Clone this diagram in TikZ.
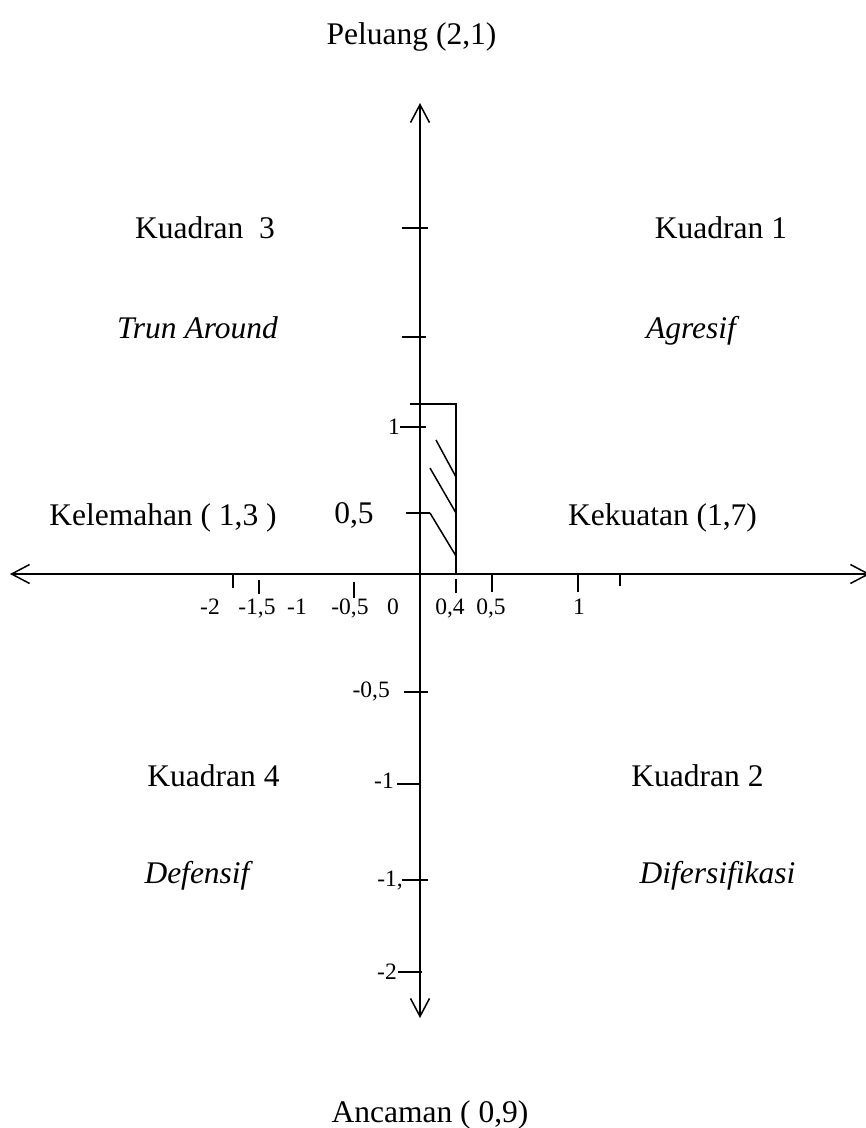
\documentclass[tikz,border=0pt]{standalone}
\usepackage{fontspec}
\setmainfont{Liberation Serif}
\usetikzlibrary{arrows.meta}
\begin{document}
\begin{tikzpicture}[x=1pt,y=-1pt,
  ln/.style={line width=1.5pt},
  axis/.style={ln,{Straight Barb[length=18pt,width=19pt,line width=1.5pt]}-{Straight Barb[length=18pt,width=19pt,line width=1.5pt]}},
  big/.style={inner sep=0pt,anchor=base,font=\fontsize{31.5}{36}\selectfont},
  small/.style={inner sep=0pt,anchor=base,font=\fontsize{23.5}{27}\selectfont},
  smalle/.style={inner sep=0pt,anchor=base east,font=\fontsize{23.5}{27}\selectfont}]
\useasboundingbox (0,0) rectangle (866,1128);
% axes
\coordinate (top) at (420,103);
\coordinate (bot) at (420,1018);
\coordinate (lft) at (10,574);
\coordinate (rgt) at (870,574);
\draw[axis] (bot) -- (top);
\draw[axis] (lft) -- (rgt);
% vertical ticks
\draw[ln] (402,228) -- (428,228);
\draw[ln] (402,337) -- (426,337);
\draw[ln] (400,427) -- (426,427);
\draw[ln] (406,513) -- (430,513);
\draw[ln] (404,692) -- (428,692);
\draw[ln] (397,784) -- (420,784);
\draw[ln] (402,880) -- (428,880);
\draw[ln] (398,972) -- (422,972);
% horizontal ticks
\draw[ln] (233,573) -- (233,588);
\draw[ln] (259,580) -- (259,594);
\draw[ln] (354,582) -- (354,598);
\draw[ln] (456,579) -- (456,593);
\draw[ln] (492,574) -- (492,592);
\draw[ln] (578,574) -- (578,592);
\draw[ln] (620,574) -- (620,586);
% rectangle and hatching
\draw[ln] (410,404) -- (456,404) -- (456,574);
\draw[ln] (430,513) -- (456,556);
\draw[ln] (430,468) -- (456,513);
\draw[ln] (436,440) -- (456,477);
% horizontal axis labels
\node[small] (hm2) at (210,614) {-2};
\node[small] (hm15) at (257,614) {-1,5};
\node[small] (hm1) at (297,614) {-1};
\node[small] (hm05) at (350,614) {-0,5};
\node[small] (h0) at (393,614) {0};
\node[small] (h04) at (450,614) {0,4};
\node[small] (h05) at (491,614) {0,5};
\node[small] (h1) at (579,614) {1};
% vertical axis labels
\node[smalle] (v1) at (400,434) {1};
\node[smalle] (vm05) at (390,697) {-0,5};
\node[smalle] (vm1) at (394,788) {-1};
\node[smalle] (vm1b) at (403,886) {-1,};
\node[smalle] (vm2) at (397,979) {-2};
\node[big] (v05) at (354,523) {0,5};
% titles
\node[big] (peluang) at (411.5,44) {Peluang (2,1)};
\node[big] (ancaman) at (430,1122) {Ancaman ( 0,9)};
\node[big] (kelemahan) at (163,525) {Kelemahan ( 1,3 )};
\node[big] (kekuatan) at (662.5,525) {Kekuatan (1,7)};
\node[big] (k3) at (205,238) {Kuadran\ \ 3};
\node[big] (k1) at (721,238) {Kuadran 1};
\node[big] (tr) at (197.5,338) {\itshape Trun Around};
\node[big] (ag) at (691,338) {\itshape Agresif};
\node[big] (k4) at (213.5,786) {Kuadran 4};
\node[big] (k2) at (697.5,786) {Kuadran 2};
\node[big] (df) at (197,883) {\itshape Defensif};
\node[big] (dv) at (717.5,883) {\itshape Difersifikasi};
\end{tikzpicture}
\end{document}
